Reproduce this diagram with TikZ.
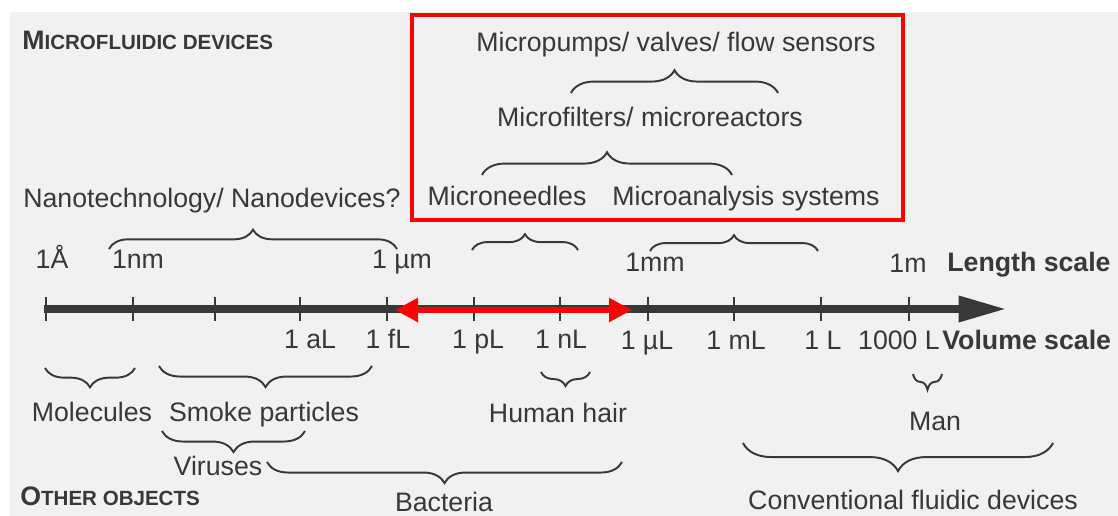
\documentclass[tikz,border=0pt]{standalone}
\usepackage{fontspec}
\setmainfont{Liberation Sans}
\usepackage{tikz}
\usetikzlibrary{positioning, arrows.meta, calc, decorations.pathreplacing}
\usepackage{xcolor}
\definecolor{ink}{HTML}{383838}
\definecolor{paper}{HTML}{F1F1F1}
\newcommand{\fakesc}[2]{{\fontsize{15.2}{18}\selectfont #1}{\fontsize{11.7}{14}\selectfont #2}}

\begin{document}
\begin{tikzpicture}[
    x=0.02cm, y=-0.02cm,
    lbl/.style={text=ink, font=\fontsize{15.2}{18}\selectfont, inner sep=0pt, anchor=base},
    bold/.style={lbl, font=\bfseries\fontsize{15.2}{18}\selectfont},
    brace/.style={draw=ink, line width=1.1pt, decorate, decoration={brace, amplitude=#1}},
    tick/.style={draw=ink, line width=1.2pt}
]

% Sfondo
\useasboundingbox (0,0) rectangle (1118,516);
\fill[paper] (10,12) rectangle (1118,516);

% Titoli
\node[bold, anchor=base west] (mfd) at (22,50) {\fakesc{M}{ICROFLUIDIC DEVICES}};
\node[bold, anchor=base west] (oth) at (20,505) {\fakesc{O}{THER OBJECTS}};

% Dispositivi microfluidici
\node[lbl] (pumps) at (676,52) {Micropumps/ valves/ flow sensors};
\node[lbl] (filters) at (650,127) {Microfilters/ microreactors};
\node[lbl] (needles) at (507,206) {Microneedles};
\node[lbl] (analysis) at (746,206) {Microanalysis systems};
\node[lbl, anchor=base west] (nano) at (23,208) {Nanotechnology/ Nanodevices?};

\draw[red, line width=2pt] (412,15) rectangle (903,220);

% Graffe sopra l'asse
\coordinate (pl) at (571,93);  \coordinate (pr) at (778,93);
\coordinate (fl) at (482,175); \coordinate (fr) at (732,175);
\coordinate (nl) at (109,249); \coordinate (nr) at (397,249);
\coordinate (ml) at (472,250); \coordinate (mr) at (578,250);
\coordinate (al) at (650,251); \coordinate (ar) at (818,251);

\draw[brace=13pt] (pl) -- (pr);
\draw[brace=13pt] (fl) -- (fr);
\draw[brace=11pt] (nl) -- (nr);
\draw[brace=9pt] (ml) -- (mr);
\draw[brace=9pt] (al) -- (ar);

% Scala delle lunghezze
\node[lbl] (angstrom) at (52,269) {1\AA};
\node[lbl] (nm) at (138,269) {1nm};
\node[lbl] (um) at (402,269) {1 \textmu m};
\node[lbl] (mm) at (655,272) {1mm};
\node[lbl] (m) at (908,273) {1m};
\node[bold, anchor=base west] (lscale) at (947,272) {Length scale};

% Asse
\coordinate (a0) at (44,309);
\coordinate (a1) at (1006,309);
\draw[ink, line width=4pt, -{Triangle[length=0.95cm, width=0.5cm]}] (a0) -- (a1);
\foreach \x in {46,133,215,300,387,474,560,648,734,821,909}
    \draw[tick] (\x,297) -- (\x,321);

\coordinate (r0) at (395,310);
\coordinate (r1) at (632,310);
\draw[red, line width=3pt, {Triangle[length=0.46cm, width=0.46cm]}-{Triangle[length=0.46cm, width=0.46cm]}] (r0) -- (r1);

% Scala dei volumi
\node[lbl] (al1) at (310,349) {1 aL};
\node[lbl] (fl1) at (388,349) {1 fL};
\node[lbl] (pl1) at (478,349) {1 pL};
\node[lbl] (nl1) at (561,349) {1 nL};
\node[lbl] (ul1) at (647,350) {1 \textmu L};
\node[lbl] (ml1) at (736,350) {1 mL};
\node[lbl] (l1) at (823,350) {1 L};
\node[lbl] (kl1) at (899,350) {1000 L};
\node[bold, anchor=base west] (vscale) at (942,350) {Volume scale};

% Altri oggetti
\node[lbl] (mol) at (92,421) {Molecules};
\node[lbl] (smoke) at (264,421) {Smoke particles};
\node[lbl] (hair) at (558,422) {Human hair};
\node[lbl] (man) at (935,430) {Man};
\node[lbl] (virus) at (218,475) {Viruses};
\node[lbl] (bact) at (444,511) {Bacteria};
\node[lbl] (conv) at (913,509) {Conventional fluidic devices};

% Graffe sotto l'asse
\coordinate (bl1) at (45,368);  \coordinate (br1) at (135,368);
\coordinate (bl2) at (159,366); \coordinate (br2) at (372,366);
\coordinate (bl3) at (541,372); \coordinate (br3) at (590,372);
\coordinate (bl4) at (913,374); \coordinate (br4) at (942,374);
\coordinate (bl5) at (162,431); \coordinate (br5) at (305,431);
\coordinate (bl6) at (267,462); \coordinate (br6) at (622,462);
\coordinate (bl7) at (743,443); \coordinate (br7) at (1053,443);

\draw[brace=11pt] (br1) -- (bl1);
\draw[brace=12pt] (br2) -- (bl2);
\draw[brace=8pt] (br3) -- (bl3);
\draw[brace=9pt] (br4) -- (bl4);
\draw[brace=12pt] (br5) -- (bl5);
\draw[brace=12pt] (br6) -- (bl6);
\draw[brace=16pt] (br7) -- (bl7);

\end{tikzpicture}
\end{document}
